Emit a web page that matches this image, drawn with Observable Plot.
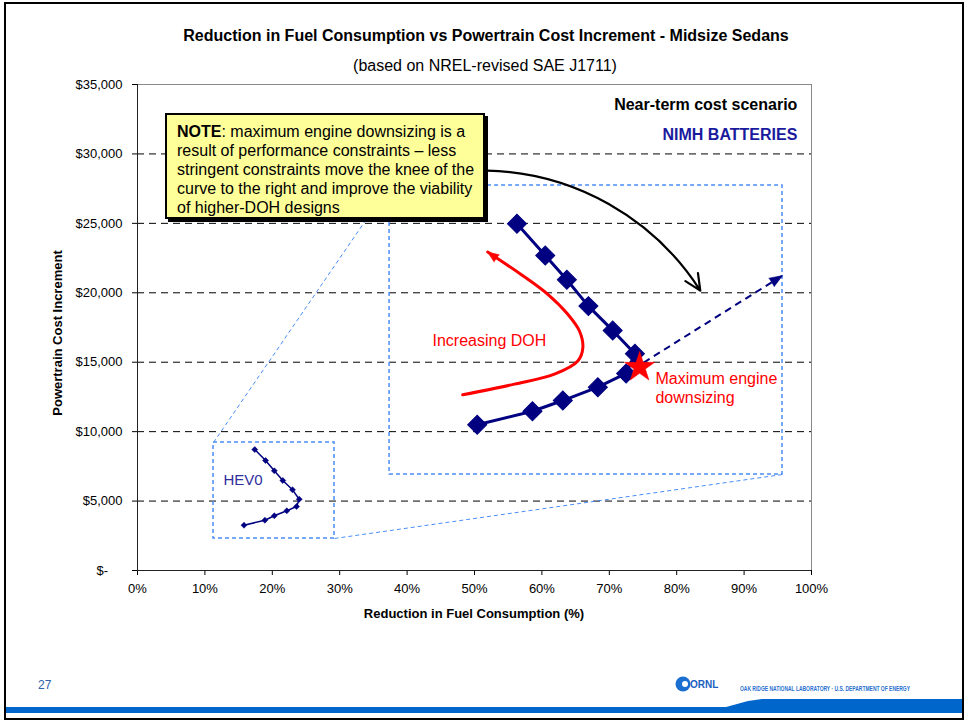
<!DOCTYPE html>
<html>
<head>
<meta charset="utf-8">
<script src="https://cdn.jsdelivr.net/npm/d3@7"></script>
<script src="https://cdn.jsdelivr.net/npm/@observablehq/plot@0.6"></script>
<style>
  body { margin: 0; background: #fff; font-family: "Liberation Sans", Arial, sans-serif; }
  #page { position: relative; width: 966px; height: 721px; overflow: hidden; background: #fff; }
  #chart { position: absolute; left: 0; top: 0; }
  .abs { position: absolute; white-space: nowrap; }
  #title { left: 3px; width: 966px; top: 27px; text-align: center; font-size: 16px; font-weight: bold; line-height: 18px; }
  #subtitle { left: 2px; width: 966px; top: 57px; text-align: center; font-size: 16px; line-height: 18px; }
  #xlabel { left: 0; width: 948px; top: 606px; text-align: center; font-size: 13px; font-weight: bold; line-height: 16px; }
  #ylabel { left: 58px; top: 333px; font-size: 13px; font-weight: bold; line-height: 14px; transform: translate(-50%, -50%) rotate(-90deg); }
  #note { left: 165px; top: 113px; width: 320px; height: 106px; box-sizing: border-box; background: #ffff99;
          border: 2px solid #000; box-shadow: 3px 3px 0 #000; padding: 7px 0 0 10px; font-size: 16px; line-height: 19px; color: #000; }
  #pagenum { left: 38px; top: 678px; font-size: 12px; color: #2a62ad; }
  #frame { left: 4px; top: 2px; width: 960px; height: 718px; box-sizing: border-box; border: 2px solid #000; }
  #footer { left: 0; top: 670px; }
</style>
</head>
<body>
<div id="page">
  <div id="chart"></div>
  <div class="abs" id="title">Reduction in Fuel Consumption vs Powertrain Cost Increment - Midsize Sedans</div>
  <div class="abs" id="subtitle">(based on NREL-revised SAE J1711)</div>
  <div class="abs" id="xlabel">Reduction in Fuel Consumption (%)</div>
  <div class="abs" id="ylabel">Powertrain Cost Increment</div>
  <div class="abs" id="note"><b>NOTE</b>: maximum engine downsizing is a<br>result of performance constraints – less<br>stringent constraints move the knee of the<br>curve to the right and improve the viability<br>of higher-DOH designs</div>
  <div class="abs" id="pagenum">27</div>
  <svg class="abs" id="footer" width="966" height="51">
    <rect x="6" y="37" width="956" height="6" fill="#0066cc"></rect>
    <polygon points="726,37 748,31 762,29 962,29 962,37" fill="#0066cc"></polygon>
    <circle cx="683" cy="14" r="7.5" fill="#1a6fd1"></circle>
    <circle cx="685" cy="14" r="3" fill="#fff"></circle>
    <text x="690" y="18" font-size="10" font-weight="bold" fill="#1a5fc0" font-family="Liberation Sans, Arial">ORNL</text>
    <text x="740" y="21" font-size="6.5" font-weight="bold" fill="#2a6fd0" textLength="170" lengthAdjust="spacingAndGlyphs" font-family="Liberation Sans, Arial">OAK RIDGE NATIONAL LABORATORY · U.S. DEPARTMENT OF ENERGY</text>
  </svg>
  <div class="abs" id="frame"></div>
</div>
<script>
// ---- Data ----
// NIMH batteries series (reduction in fuel consumption, powertrain cost increment)
const nimhReduction = [0.504, 0.586, 0.631, 0.683, 0.725, 0.738, 0.705, 0.669, 0.637, 0.605, 0.563];
const nimhCost      = [10500, 11470, 12240, 13200, 14190, 15610, 17290, 19040, 20940, 22690, 24970];
// HEV0 series
const hev0Reduction = [0.158, 0.189, 0.203, 0.2215, 0.236, 0.240, 0.230, 0.2156, 0.203, 0.190, 0.174];
const hev0Cost      = [3260, 3620, 3940, 4300, 4610, 5135, 5810, 6480, 7180, 7920, 8710];
// Maximum engine downsizing point
const starReduction = [0.745];
const starCost = [14640];

// Axis ticks
const xTicks = [0, 0.1, 0.2, 0.3, 0.4, 0.5, 0.6, 0.7, 0.8, 0.9, 1.0];
const yTicks = [0, 5000, 10000, 15000, 20000, 25000, 30000, 35000];
const yTickLabels = ["$-\u00a0\u00a0\u00a0\u00a0", "$5,000", "$10,000", "$15,000", "$20,000", "$25,000", "$30,000", "$35,000"];

// Annotation geometry (data coordinates)
const zoomBoxX1 = [0.1128, 0.374];
const zoomBoxX2 = [0.2923, 0.957];
const zoomBoxY1 = [2305, 6914];
const zoomBoxY2 = [9219, 27728];
const connectorX1 = [0.1128, 0.2923];
const connectorY1 = [9219, 2305];
const connectorX2 = [0.374, 0.957];
const connectorY2 = [27728, 6914];
// "Increasing DOH" red curve
const dohReduction = [0.4825, 0.5591, 0.6186, 0.6533, 0.6608, 0.6557, 0.6385, 0.6088, 0.5691, 0.5196];
const dohCost      = [12650, 13420, 14140, 15090, 16050, 17250, 18450, 19890, 21320, 22930];
// Black "move the knee" arrow
const kneeArrow = {x1: 0.519, y1: 28800, x2: 0.835, y2: 20160};
// Dashed navy arrow
const dashArrow = {x1: 0.751, y1: 14980, x2: 0.957, y2: 21240};
// Labels
const labelText = ["Near-term cost scenario", "NIMH BATTERIES"];
const labelX = [0.979, 0.979];
const labelY = [33560, 31390];
const redText = ["Increasing DOH", "Maximum engine", "downsizing"];
const redX = [0.4377, 0.7685, 0.7685];
const redY = [16560, 13820, 12460];

// ---- Build tables ----
const nimh = nimhReduction.map((x, i) => ({x, y: nimhCost[i]}));
const hev0 = hev0Reduction.map((x, i) => ({x, y: hev0Cost[i]}));
const star = starReduction.map((x, i) => ({x, y: starCost[i]}));
const boxes = zoomBoxX1.map((x1, i) => ({x1, x2: zoomBoxX2[i], y1: zoomBoxY1[i], y2: zoomBoxY2[i]}));
const connectors = connectorX1.map((x1, i) => ({x1, y1: connectorY1[i], x2: connectorX2[i], y2: connectorY2[i]}));
const doh = dohReduction.map((x, i) => ({x, y: dohCost[i]}));
const dohTip = [doh[doh.length - 1]];
const labels = labelText.map((t, i) => ({t, x: labelX[i], y: labelY[i]}));
const reds = redText.map((t, i) => ({t, x: redX[i], y: redY[i]}));

const navy = "#000080";
const boxBlue = "#4b8df8";

const chart = Plot.plot({
  width: 966,
  height: 721,
  marginLeft: 137,
  marginRight: 155,
  marginTop: 84,
  marginBottom: 151,
  style: {fontFamily: "Liberation Sans, Arial, sans-serif", fontSize: "13px", color: "#000", background: "transparent", overflow: "visible"},
  x: {domain: [0, 1]},
  y: {domain: [0, 35000]},
  marks: [
    Plot.ruleY(yTicks.slice(1), {stroke: "#000", strokeDasharray: "7,5", strokeWidth: 1}),
    Plot.frame({stroke: "#888", strokeWidth: 1}),
    Plot.rect(boxes, {x1: "x1", x2: "x2", y1: "y1", y2: "y2", fill: "none", stroke: boxBlue, strokeDasharray: "4,3", strokeWidth: 1.5}),
    Plot.link(connectors, {x1: "x1", y1: "y1", x2: "x2", y2: "y2", stroke: boxBlue, strokeDasharray: "4,3", strokeWidth: 1}),
    Plot.axisX({ticks: xTicks, tickFormat: d3.format(".0%"), tickSize: 5, tickPadding: 8, label: null, fontSize: 13}),
    Plot.axisY({ticks: yTicks, tickFormat: (d) => yTickLabels[yTicks.indexOf(d)], tickSize: 5, tickPadding: 10, label: null, fontSize: 13}),
    Plot.ruleX([0], {stroke: "#222", strokeWidth: 1}),
    Plot.ruleY([0], {stroke: "#222", strokeWidth: 1}),
    // HEV0
    Plot.line(hev0, {x: "x", y: "y", stroke: navy, strokeWidth: 1.5}),
    Plot.dot(hev0, {x: "x", y: "y", symbol: "square", rotate: 45, r: 2.4, fill: navy, stroke: navy, strokeWidth: 0.5}),
    // NIMH
    Plot.line(nimh, {x: "x", y: "y", stroke: navy, strokeWidth: 3}),
    Plot.dot(nimh, {x: "x", y: "y", symbol: "square", rotate: 45, r: 7.6, fill: navy, stroke: navy, strokeWidth: 1}),
    // Red DOH curve
    Plot.line(doh, {x: "x", y: "y", stroke: "red", strokeWidth: 3, curve: "catmull-rom"}),
    Plot.vector(dohTip, {x: "x", y: "y", length: 11, rotate: -55, anchor: "end", shape: "spike", r: 4.5, fill: "red", stroke: "red", strokeWidth: 0.5}),
    // Dashed navy arrow
    Plot.link([dashArrow], {x1: "x1", y1: "y1", x2: "x2", y2: "y2", stroke: navy, strokeWidth: 2, strokeDasharray: "7,5"}),
    Plot.vector([dashArrow], {x: "x2", y: "y2", length: 13, rotate: 58, anchor: "end", shape: "spike", r: 5, fill: navy, stroke: navy, strokeWidth: 0.5}),
    // Black curved arrow
    Plot.arrow([kneeArrow], {x1: "x1", y1: "y1", x2: "x2", y2: "y2", bend: 28, stroke: "#000", strokeWidth: 2.2, headLength: 12, headAngle: 50}),
    // Star
    Plot.dot(star, {x: "x", y: "y", symbol: "star", r: 9.5, fill: "red", stroke: "red", strokeWidth: 0.5}),
    // Texts
    Plot.text(labels, {x: "x", y: "y", text: "t", textAnchor: "end", fontSize: 16, fontWeight: "bold", fill: (d, i) => i === 0 ? "#000" : "#1a1a9e"}),
    Plot.text(["HEV0"], {x: [0.1276], y: [6480], text: (d) => d, textAnchor: "start", fontSize: 15, fill: "#2e2e9e"}),
    Plot.text(reds, {x: "x", y: "y", text: "t", textAnchor: "start", fontSize: 16, fill: "red"})
  ]
});
document.getElementById("chart").appendChild(chart);
</script>
</body>
</html>
